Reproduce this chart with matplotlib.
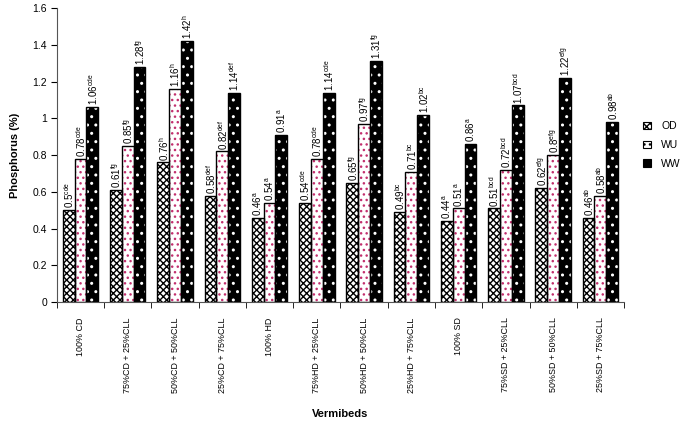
import matplotlib
matplotlib.use("Agg")
import matplotlib.pyplot as plt
import numpy as np
from matplotlib.patches import Patch

plt.rcParams['font.family'] = ['Liberation Sans', 'DejaVu Sans']
plt.rcParams['hatch.linewidth'] = 1.0

categories = ["100% CD", "75%CD + 25%CLL", "50%CD + 50%CLL", "25%CD + 75%CLL",
              "100% HD", "75%HD + 25%CLL", "50%HD + 50%CLL", "25%HD + 75%CLL",
              "100% SD", "75%SD + 25%CLL", "50%SD + 50%CLL", "25%SD + 75%CLL"]
series_names = ["OD", "WU", "WW"]
od = [0.5, 0.61, 0.76, 0.58, 0.46, 0.54, 0.65, 0.49, 0.44, 0.51, 0.62, 0.46]
wu = [0.78, 0.85, 1.16, 0.82, 0.54, 0.78, 0.97, 0.71, 0.51, 0.72, 0.8, 0.58]
ww = [1.06, 1.28, 1.42, 1.14, 0.91, 1.14, 1.31, 1.02, 0.86, 1.07, 1.22, 0.98]
letters = ["cde", "fg", "h", "def", "a", "cde", "fg", "bc", "a", "bcd", "efg", "ab"]
yticks = [0, 0.2, 0.4, 0.6, 0.8, 1.0, 1.2, 1.4, 1.6]

fig = plt.figure(figsize=(6.85, 4.22), dpi=100)
ax = fig.add_axes([0.083, 0.284, 0.828, 0.697])

x = np.arange(len(categories))
w = 0.25
styles = [
    dict(face="white", hatch="xxxxx", hcolor="black"),
    dict(face="white", hatch="...", hcolor="#c2306e"),
    dict(face="black", hatch="..", hcolor="white"),
]
for i, (vals, st, name) in enumerate(zip([od, wu, ww], styles, series_names)):
    pos = x + (i - 1) * w
    ax.bar(pos, vals, w, color=st["face"], hatch=st["hatch"],
           edgecolor=st["hcolor"], linewidth=0, zorder=2)
    ax.bar(pos, vals, w, fill=False, edgecolor="black", linewidth=1.0, zorder=3)
    for p, v, l in zip(pos, vals, letters):
        ax.text(p + 0.01, v + 0.01, r"$\mathregular{%g^{%s}}$" % (v, l), rotation=90,
                ha="center", va="bottom", fontsize=7)

proxies = [Patch(facecolor=st["face"], hatch=st["hatch"], edgecolor="black",
                 linewidth=0.8) for st in styles]
fig.legend(proxies, series_names, loc="upper left", bbox_to_anchor=(0.925, 0.735),
           frameon=False, fontsize=7.5, handlelength=0.75, handleheight=0.75,
           labelspacing=0.85, handletextpad=1.0)

ax.set_xlim(-0.5, len(categories) - 0.5)
ax.set_ylim(0, 1.6)
ax.set_yticks(yticks)
ax.set_yticklabels(["%g" % t for t in yticks], fontsize=7.5)
ax.set_xticks(x)
ax.set_xticklabels(categories, rotation=90, fontsize=6.4, va="top")
ax.tick_params(axis="x", length=0, pad=11)
ax.set_xticks(np.arange(len(categories) + 1) - 0.5, minor=True)
ax.tick_params(axis="x", which="minor", length=4, direction="out")
ax.tick_params(axis="y", length=4, direction="out", pad=3)
for s in ["top", "right"]:
    ax.spines[s].set_visible(False)
for s in ["left", "bottom"]:
    ax.spines[s].set_color("#555555")
ax.set_ylabel("Phosphorus (%)", fontsize=8, fontweight="bold", labelpad=9)
fig.text(0.497, 0.008, "Vermibeds", fontsize=8, fontweight="bold", ha="center", va="bottom")

fig.savefig("out.png", dpi=100)
